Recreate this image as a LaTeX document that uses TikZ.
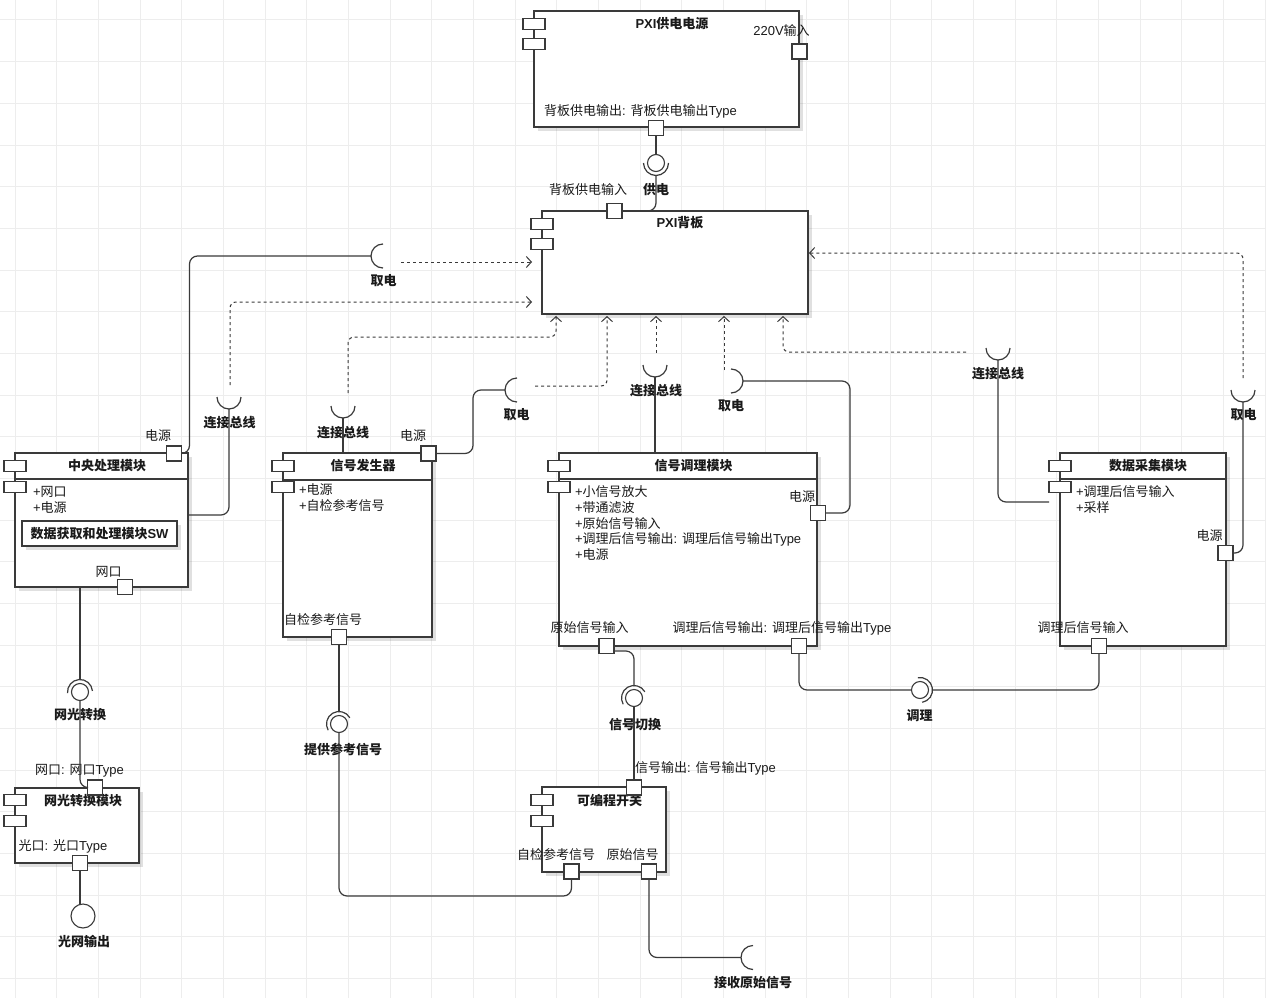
\documentclass[tikz,border=0pt]{standalone}
\usepackage{fontspec}
\setmainfont{Noto Sans CJK SC}
\newfontfamily\latf{Liberation Sans}
\usetikzlibrary{arrows.meta,shadows}
\newcommand\lt[1]{{\latf #1}}
\newcommand\fs{\fontsize{13}{15.6}\selectfont}
\definecolor{ln}{HTML}{3A3A3A}
\definecolor{gridc}{HTML}{EDEDED}
\definecolor{txt}{HTML}{1A1A1A}
\newcommand\sock[3]{\draw[draw=ln,line width=1.2pt] ([shift={({90-#2}:#3)}]#1) arc[start angle={90-#2},end angle={-90-#2},radius=#3];}
\begin{document}
\begin{tikzpicture}[x=1pt,y=-1pt,
 every node/.style={inner sep=0pt,outer sep=0pt,text=txt,font=\fs},
 comp/.style={draw=ln,line width=1.3pt,fill=white,rectangle,drop shadow={shadow xshift=4pt,shadow yshift=-4pt,opacity=0.12,fill=black}},
 icon/.style={draw=ln,line width=1.1pt,fill=white,rectangle,minimum width=22pt,minimum height=11pt},
 port/.style={draw=ln,line width=1.1pt,fill=white,rectangle,minimum size=15pt},
 ball/.style={draw=ln,line width=1.1pt,fill=white,circle,minimum size=17pt},
 conn/.style={draw=ln,line width=1.2pt,rounded corners=8pt},
 dep/.style={draw=ln,line width=1pt,dash pattern=on 3pt off 3pt,rounded corners=6pt,-{Straight Barb[length=5pt,width=11pt]}},
 lbl/.style={font=\fs},
 blbl/.style={font=\fs\bfseries},
 hdr/.style={draw=ln,line width=1.2pt}
]
\useasboundingbox (0,0) rectangle (1266,998);
\fill[white] (0,0) rectangle (1266,998);
\foreach \i in {0,...,30} {\draw[gridc,line width=1pt] ({15+41.667*\i},0) -- ({15+41.667*\i},998);}
\foreach \j in {0,...,23} {\draw[gridc,line width=1pt] (0,{20+41.667*\j}) -- (1266,{20+41.667*\j});}

% ---------- components ----------
\node[comp,minimum width=265pt,minimum height=116pt] (PS) at (666.5,69) {};
\node[comp,minimum width=266pt,minimum height=103pt] (BP) at (675,262.5) {};
\node[comp,minimum width=173pt,minimum height=134pt] (CPU) at (101.5,520) {};
\node[comp,minimum width=149pt,minimum height=184pt] (SG) at (357.5,545) {};
\node[comp,minimum width=258pt,minimum height=193pt] (SC) at (688,549.5) {};
\node[comp,minimum width=166pt,minimum height=193pt] (DA) at (1143,549.5) {};
\node[comp,minimum width=124pt,minimum height=75pt] (NC) at (77,825.5) {};
\node[comp,minimum width=124pt,minimum height=85pt] (PSW) at (604,829.5) {};

% header lines
\draw[hdr] (15,479) -- (188,479);
\draw[hdr] (283,480) -- (432,480);
\draw[hdr] (559,479) -- (817,479);
\draw[hdr] (1060,479) -- (1226,479);

% component icons
\node[icon] (PSi1) at (534,24) {};  \node[icon] (PSi2) at (534,44) {};
\node[icon] (BPi1) at (542,224) {}; \node[icon] (BPi2) at (542,244) {};
\node[icon] (CPUi1) at (15,466) {}; \node[icon] (CPUi2) at (15,487) {};
\node[icon] (SGi1) at (283,466) {}; \node[icon] (SGi2) at (283,487) {};
\node[icon] (SCi1) at (559,466) {}; \node[icon] (SCi2) at (559,487) {};
\node[icon] (DAi1) at (1060,466) {}; \node[icon] (DAi2) at (1060,487) {};
\node[icon] (NCi1) at (15,800) {}; \node[icon] (NCi2) at (15,821) {};
\node[icon] (PSWi1) at (542,800) {}; \node[icon] (PSWi2) at (542,821) {};

% titles
\node[blbl] (tPS) at (672,24) {\lt{PXI}供电电源};
\node[blbl] (tBP) at (680,223) {\lt{PXI}背板};
\node[blbl] (tCPU) at (107,466) {中央处理模块};
\node[blbl] (tSG) at (363,466) {信号发生器};
\node[blbl] (tSC) at (693.5,466) {信号调理模块};
\node[blbl] (tDA) at (1148,466) {数据采集模块};
\node[blbl] (tNC) at (83,801) {网光转换模块};
\node[blbl] (tPSW) at (609.5,801) {可编程开关};

% attributes
\node[lbl,anchor=west] (aC1) at (33,492) {\lt{+}网口};
\node[lbl,anchor=west] (aC2) at (33,508) {\lt{+}电源};
\node[draw=ln,line width=1.2pt,fill=white,minimum width=155pt,minimum height=25pt,drop shadow={shadow xshift=4pt,shadow yshift=-4pt,opacity=0.12,fill=black}] (SW) at (99.5,533.5) {};
\node[blbl] (tSW) at (99.5,533.5) {数据获取和处理模块\lt{SW}};
\node[lbl,anchor=west] (aG1) at (299,490) {\lt{+}电源};
\node[lbl,anchor=west] (aG2) at (299,506) {\lt{+}自检参考信号};
\node[lbl,anchor=west] (aS1) at (575,492) {\lt{+}小信号放大};
\node[lbl,anchor=west] (aS2) at (575,508) {\lt{+}带通滤波};
\node[lbl,anchor=west] (aS3) at (575,523.5) {\lt{+}原始信号输入};
\node[lbl,anchor=west] (aS4) at (575,539) {\lt{+}调理后信号输出\lt{: }调理后信号输出\lt{Type}};
\node[lbl,anchor=west] (aS5) at (575,555) {\lt{+}电源};
\node[lbl,anchor=west] (aD1) at (1076,492) {\lt{+}调理后信号输入};
\node[lbl,anchor=west] (aD2) at (1076,508) {\lt{+}采样};

% ports
\node[port] (pPSin) at (799.5,51.5) {};
\node[port] (pPSout) at (656,128) {};
\node[port] (pBPin) at (614.5,211) {};
\node[port] (pCPUpwr) at (174,453.5) {};
\node[port] (pCPUnet) at (125,587) {};
\node[port] (pSGpwr) at (428.5,453.5) {};
\node[port] (pSGref) at (339,637) {};
\node[port] (pSCpwr) at (818,513) {};
\node[port] (pSCraw) at (606.5,646) {};
\node[port] (pSCout) at (799,646) {};
\node[port] (pDApwr) at (1225.5,553) {};
\node[port] (pDAin) at (1099,646) {};
\node[port] (pNCnet) at (95,787.5) {};
\node[port] (pNCopt) at (80,863) {};
\node[port] (pPSWout) at (634,787.5) {};
\node[port] (pPSWref) at (571.5,871.5) {};
\node[port] (pPSWraw) at (649,871.5) {};

% port labels
\node[lbl] (lPSin) at (781.5,30.5) {\lt{220V}输入};
\node[lbl] (lPSout) at (640.5,111.5) {背板供电输出\lt{: }背板供电输出\lt{Type}};
\node[lbl] (lBPin) at (588,189.5) {背板供电输入};
\node[lbl] (lCPUpwr) at (158,436) {电源};
\node[lbl] (lCPUnet) at (108.5,571.5) {网口};
\node[lbl] (lSGpwr) at (413,436) {电源};
\node[lbl] (lSGref) at (323,620) {自检参考信号};
\node[lbl] (lSCpwr) at (802,496.5) {电源};
\node[lbl] (lSCraw) at (589.5,628) {原始信号输入};
\node[lbl] (lSCout) at (782,628) {调理后信号输出\lt{: }调理后信号输出\lt{Type}};
\node[lbl] (lDApwr) at (1209.5,536) {电源};
\node[lbl] (lDAin) at (1083,628) {调理后信号输入};
\node[lbl] (lNCnet) at (79.5,771) {网口\lt{: }网口\lt{Type}};
\node[lbl] (lNCopt) at (63,846.5) {光口\lt{: }光口\lt{Type}};
\node[lbl] (lPSWout) at (705.5,768) {信号输出\lt{: }信号输出\lt{Type}};
\node[lbl] (lPSWref) at (556,854.5) {自检参考信号};
\node[lbl] (lPSWraw) at (632.5,854.5) {原始信号};

% ---------- interfaces ----------
\node[ball] (bGD) at (656,163) {};
\node[ball] (bWG) at (80,692) {};
\node[ball] (bXQ) at (634,698) {};
\node[ball] (bTG) at (339,724) {};
\node[ball] (bTL) at (920,690) {};
\node[draw=ln,line width=1.1pt,fill=white,circle,minimum size=24pt] (cGW) at (83,916) {};
\sock{bGD}{270}{12.5}
\sock{bWG}{95}{12.5}
\sock{bXQ}{120}{12.5}
\sock{bTG}{120}{12.5}
\sock{bTL}{10}{12.5}

\coordinate (sQD1) at (383,256);
\coordinate (sQD2) at (517,390);
\coordinate (sQD3) at (731,381);
\coordinate (sQD4) at (1243,390);
\coordinate (sBUS1) at (229,397);
\coordinate (sBUS2) at (343,406);
\coordinate (sBUS3) at (655,365);
\coordinate (sBUS4) at (998,348);
\coordinate (sJS) at (753,957.5);
\sock{sQD1}{180}{12}
\sock{sQD2}{180}{12}
\sock{sQD3}{0}{12}
\sock{sQD4}{270}{12}
\sock{sBUS1}{270}{12}
\sock{sBUS2}{270}{12}
\sock{sBUS3}{270}{12}
\sock{sBUS4}{270}{12}
\sock{sJS}{180}{12}

% interface labels
\node[blbl] (iGD) at (656,190) {供电};
\node[blbl] (iQD1) at (383.5,280.5) {取电};
\node[blbl] (iBUS1) at (229.5,422.5) {连接总线};
\node[blbl] (iBUS2) at (343,432.5) {连接总线};
\node[blbl] (iQD2) at (516.5,415) {取电};
\node[blbl] (iBUS3) at (656,390.5) {连接总线};
\node[blbl] (iQD3) at (731,405.5) {取电};
\node[blbl] (iBUS4) at (998,374) {连接总线};
\node[blbl] (iQD4) at (1243.5,415) {取电};
\node[blbl] (iWG) at (80,715) {网光转换};
\node[blbl] (iGW) at (84,941.5) {光网输出};
\node[blbl] (iXQ) at (635,725) {信号切换};
\node[blbl] (iTG) at (343,749) {提供参考信号};
\node[blbl] (iTL) at (919.5,716) {调理};
\node[blbl] (iJS) at (753,983) {接收原始信号};

% ---------- solid connectors ----------
\draw[conn] (pPSout.south) -- (bGD.north);
\draw[conn] ([yshift=-12.5pt]bGD.center) |- (pBPin.east);
\draw[conn] (pCPUpwr.east) -- ++(8,0) |- ([xshift=-12pt]sQD1);
\draw[conn] ([yshift=-12pt]sBUS1) |- ([yshift=5pt]CPU.east);
\coordinate (CPUbot) at (80,587);
\draw[conn] (CPUbot) -- ([yshift=12.5pt]bWG.center);
\draw[conn] (bWG.south) |- (pNCnet.west);
\draw[conn] (pNCopt.south) -- (pNCopt.south |- cGW.north);
\draw[conn] (pSGpwr.east) -| ([xshift=-44pt]sQD2) -- ([xshift=-12pt]sQD2);
\draw[conn] ([yshift=-12pt]sBUS2) -- (sBUS2 |- SG.north);
\draw[conn] (pSGref.south) -- ([yshift=12.5pt]bTG.center);
\draw[conn] (bTG.south) |- ([yshift=-17pt]pPSWref.south) -- (pPSWref.south);
\draw[conn] ([yshift=-12pt]sBUS3) -- (sBUS3 |- SC.north);
\draw[conn] (pSCpwr.east) -| ([xshift=119pt]sQD3) -- ([xshift=12pt]sQD3);
\draw[conn] ([yshift=-5pt]pSCraw.east) -| ([yshift=12.5pt]bXQ.center);
\draw[conn] (bXQ.south) -- (pPSWout.north);
\draw[conn] (pSCout.south) |- (bTL.west);
\draw[conn] ([xshift=12.5pt]bTL.center) -| (pDAin.south);
\coordinate (DAbus) at (1049,502);
\draw[conn] ([yshift=-12pt]sBUS4) |- (DAbus);
\draw[conn] (pDApwr.east) -| ([yshift=-12pt]sQD4);
\draw[conn] (pPSWraw.south) |- ([xshift=-12pt]sJS);

% ---------- dependencies ----------
\coordinate (d1s) at (401,262);
\coordinate (d2s) at (230,385);
\coordinate (d3s) at (348,393);
\coordinate (d4s) at (535,386);
\coordinate (d5s) at (656,353);
\coordinate (d6s) at (724,370);
\coordinate (d7s) at (966,352);
\coordinate (d8s) at (1243,378);
\draw[dep,shorten >=10pt] (d1s) -- (d1s -| BP.west);
\draw[dep,shorten >=10pt] (d2s) |- ([yshift=-39.5pt]BP.west);
\draw[dep,shorten >=2pt] (d3s) |- ([xshift=14pt,yshift=-23pt]BP.south west) -- ([xshift=14pt]BP.south west);
\draw[dep,shorten >=2pt] (d4s) -| ([xshift=65pt]BP.south west);
\draw[dep,shorten >=2pt] (d5s) -- (d5s |- BP.south);
\draw[dep,shorten >=2pt] (d6s) -- (d6s |- BP.south);
\draw[dep,shorten >=2pt] (d7s) -| ([xshift=241pt]BP.south west);
\draw[dep,shorten >=1pt] (d8s) |- ([yshift=9.5pt]BP.east);
\end{tikzpicture}
\end{document}
